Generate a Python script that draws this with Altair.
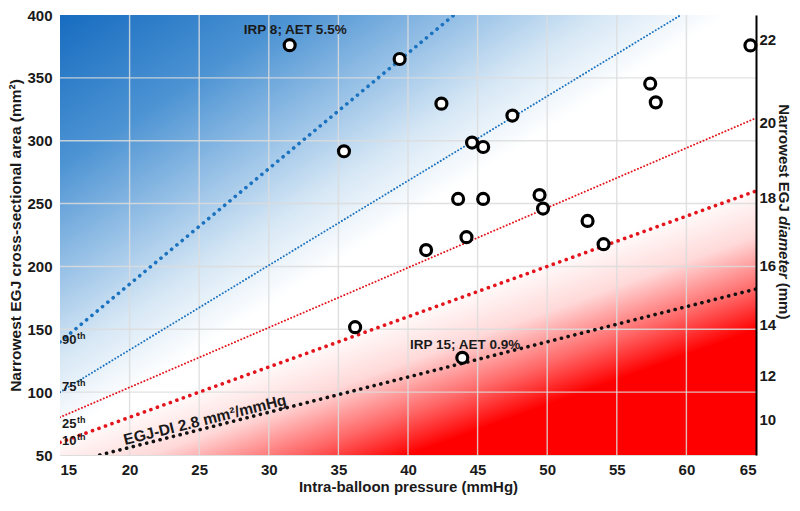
import math
import altair as alt
import pandas as pd

# ---------------- data ----------------
pressure = [31.5, 39.4, 42.4, 47.5, 35.4, 44.6, 45.4, 43.6, 45.4, 49.45,
            49.7, 44.2, 41.3, 64.6, 57.4, 57.8, 52.9, 54.05, 36.2, 43.9]
area = [376, 365, 329.5, 320, 291.6, 298.5, 295, 253.7, 253.7, 256.8,
        246, 223.3, 213, 375.8, 345.4, 330.5, 236.2, 217.7, 151.7, 127.3]

line_names = ["90th", "75th", "25th", "10th", "EGJ-DI"]
line_x_start = [15, 15, 15, 15, 17.86]
line_y_start = [140, 100, 80, 60, 50]
line_x_end = [43.3, 59.6, 65, 65, 65]
line_y_end = [400, 400, 318, 260, 182]

x_ticks = [15, 20, 25, 30, 35, 40, 45, 50, 55, 60, 65]
y_ticks = [50, 100, 150, 200, 250, 300, 350, 400]
diam_ticks = [10, 12, 14, 16, 18, 20, 22]

pct_labels = ["90", "75", "25", "10"]
pct_x = [15, 15, 15, 15]
pct_y = [138, 101, 71.6, 57.7]

ann_text = ["IRP 8; AET 5.5%", "IRP 15; AET 0.9%"]
ann_x = [31.9, 44.1]
ann_y = [384.5, 134.2]

di_text = ["EGJ-DI 2.8 mm\u00b2/mmHg"]
di_x = [25.5]
di_y = [74]

rtitle_x = [65]
rtitle_y = [329]

# ---------------- styles ----------------
FONT = "Liberation Sans"
TXT = "#1a1a1a"
BLUE = "#1b72bf"
RED = "#e3141b"
line_styles = [
    (BLUE, 3.6, [0.1, 6.8]),
    (BLUE, 1.9, [0.1, 3.3]),
    (RED, 1.9, [0.1, 3.3]),
    (RED, 3.6, [0.1, 6.8]),
    ("#111111", 3.6, [0.1, 6.8]),
]

xs = alt.Scale(domain=[x_ticks[0], x_ticks[-1]], nice=False, zero=False)
ys = alt.Scale(domain=[y_ticks[0], y_ticks[-1]], nice=False, zero=False)

x_axis = alt.Axis(values=x_ticks, title="Intra-balloon pressure (mmHg)", grid=False,
                  ticks=False, domain=False, labelFontSize=15, labelFontWeight="bold",
                  labelColor=TXT, labelPadding=7, titleFontSize=15,
                  titleFontWeight="bold", titleColor=TXT, titlePadding=2, labelFont=FONT,
                  titleFont=FONT)
y_axis = alt.Axis(values=y_ticks, title="Narrowest EGJ cross-sectional area (mm\u00b2)",
                  grid=False, ticks=False, domain=False, labelFontSize=15,
                  labelFontWeight="bold", labelColor=TXT, labelPadding=8,
                  titleFontSize=15.5, titleFontWeight="bold", titleColor=TXT,
                  titlePadding=3, labelFont=FONT, titleFont=FONT)

# ---------------- background gradients ----------------
bg_df = pd.DataFrame({"x": [x_ticks[0]], "x2": [x_ticks[-1]],
                      "y": [y_ticks[0]], "y2": [y_ticks[-1]]})

blue_grad = alt.LinearGradient(
    gradient="linear", x1=0, y1=0, x2=1, y2=1,
    stops=[
        alt.GradientStop(color="#176cc0", offset=0),
        alt.GradientStop(color="#4c93d3", offset=0.17),
        alt.GradientStop(color="#96c0e6", offset=0.29),
        alt.GradientStop(color="#d6e7f5", offset=0.39),
        alt.GradientStop(color="#ffffff", offset=0.48),
        alt.GradientStop(color="#ffffff", offset=1),
    ])
red_grad = alt.LinearGradient(
    gradient="linear", x1=0, y1=0, x2=0.57, y2=1,
    stops=[
        alt.GradientStop(color="rgba(255,0,0,0)", offset=0),
        alt.GradientStop(color="rgba(255,0,0,0)", offset=0.72),
        alt.GradientStop(color="rgba(255,0,0,0.15)", offset=0.81),
        alt.GradientStop(color="rgba(255,0,0,0.6)", offset=0.90),
        alt.GradientStop(color="rgba(255,0,0,1)", offset=0.97),
        alt.GradientStop(color="rgba(255,0,0,1)", offset=1),
    ])

bg = alt.Chart(bg_df).mark_rect(fill=blue_grad, strokeWidth=0).encode(
    x=alt.X("x:Q", scale=xs, axis=x_axis), x2="x2:Q",
    y=alt.Y("y:Q", scale=ys, axis=y_axis), y2="y2:Q")
red = alt.Chart(bg_df).mark_rect(fill=red_grad, strokeWidth=0).encode(
    x=alt.X("x:Q", scale=xs), x2="x2:Q", y=alt.Y("y:Q", scale=ys), y2="y2:Q")

# ---------------- grid ----------------
vgrid = alt.Chart(pd.DataFrame({"x": x_ticks[1:-1]})).mark_rule(
    color="#dcdcdc", opacity=0.85, strokeWidth=1.4).encode(x=alt.X("x:Q", scale=xs))
hgrid = alt.Chart(pd.DataFrame({"y": y_ticks[1:-1]})).mark_rule(
    color="#dcdcdc", opacity=0.85, strokeWidth=1.4).encode(y=alt.Y("y:Q", scale=ys))

# ---------------- dotted lines ----------------
line_layers = []
for i, name in enumerate(line_names):
    df = pd.DataFrame({"x": [line_x_start[i], line_x_end[i]],
                       "y": [line_y_start[i], line_y_end[i]], "name": [name, name]})
    col, sw, dash = line_styles[i]
    line_layers.append(
        alt.Chart(df).mark_line(color=col, strokeWidth=sw, strokeDash=dash,
                                strokeCap="round", clip=True).encode(
            x=alt.X("x:Q", scale=xs), y=alt.Y("y:Q", scale=ys)))

# ---------------- points ----------------
pts_df = pd.DataFrame({"x": pressure, "y": area})
pts = alt.Chart(pts_df).mark_point(shape="circle", filled=False, fill="white",
                                   fillOpacity=1, stroke="black", strokeWidth=3.2,
                                   size=120, opacity=1).encode(
    x=alt.X("x:Q", scale=xs), y=alt.Y("y:Q", scale=ys))

# ---------------- texts ----------------
pct_df = pd.DataFrame({"x": pct_x, "y": pct_y, "t": pct_labels})
pct = alt.Chart(pct_df).mark_text(align="left", baseline="alphabetic", dx=2,
                                  fontSize=13, fontWeight="bold", color=TXT,
                                  font=FONT).encode(
    x=alt.X("x:Q", scale=xs), y=alt.Y("y:Q", scale=ys), text="t:N")
sup = alt.Chart(pct_df).mark_text(text="th", align="left", baseline="alphabetic",
                                  dx=17, dy=-5, fontSize=9, fontWeight="bold",
                                  color=TXT, font=FONT).encode(
    x=alt.X("x:Q", scale=xs), y=alt.Y("y:Q", scale=ys))

ann_df = pd.DataFrame({"x": ann_x, "y": ann_y, "t": ann_text})
ann = alt.Chart(ann_df).mark_text(align="center", baseline="alphabetic",
                                  fontSize=13.5, fontWeight="bold", color=TXT,
                                  font=FONT).encode(
    x=alt.X("x:Q", scale=xs), y=alt.Y("y:Q", scale=ys), text="t:N")

di_df = pd.DataFrame({"x": di_x, "y": di_y, "t": di_text})
di = alt.Chart(di_df).mark_text(align="center", baseline="alphabetic", angle=346,
                                fontSize=15.5, fontWeight="bold", color=TXT,
                                font=FONT).encode(
    x=alt.X("x:Q", scale=xs), y=alt.Y("y:Q", scale=ys), text="t:N")

# right-axis title in three pieces (italic "diameter")
rt_df = pd.DataFrame({"x": rtitle_x, "y": rtitle_y})
rt_layers = []
for txt, dxv, style in [("Narrowest EGJ", 0, "normal"), ("diameter", 111.8, "italic"),
                        ("(mm)", 178.5, "normal")]:
    rt_layers.append(
        alt.Chart(rt_df).mark_text(text=txt, angle=90, align="left", baseline="middle",
                                   dx=dxv, dy=-28, fontSize=15, fontWeight="bold",
                                   fontStyle=style, color=TXT, font=FONT).encode(
            x=alt.X("x:Q", scale=xs), y=alt.Y("y:Q", scale=ys)))

main = alt.layer(bg, red, vgrid, hgrid, *line_layers, pts, pct, sup, ann, di, *rt_layers)

# ---------------- right (diameter) axis ----------------
diam_area = [math.pi * (d / 2) ** 2 for d in diam_ticks]
right_axis = alt.Axis(orient="right", values=diam_area,
                      labelExpr="format(2*sqrt(datum.value/PI), '.0f')", title=None,
                      grid=False, ticks=False, domain=True, domainColor="#000000",
                      domainWidth=2, labelFontSize=15, labelFontWeight="bold",
                      labelColor=TXT, labelPadding=3, zindex=1, labelFont=FONT)
right = alt.Chart(pts_df).mark_point(opacity=0).encode(
    x=alt.X("x:Q", scale=xs),
    y=alt.Y("y:Q", scale=alt.Scale(domain=[y_ticks[0], y_ticks[-1]], nice=False,
                                   zero=False), axis=right_axis))

chart = alt.layer(main, right).resolve_scale(y="independent").properties(
    width=696, height=440,
    padding={"left": 52, "top": 7, "right": 36, "bottom": 41},
    autosize=alt.AutoSizeParams(type="none"),
).configure_view(stroke="#666666", strokeWidth=1.5).configure(font=FONT)

chart.save("out.html", embed_options={"renderer": "svg", "actions": False})
